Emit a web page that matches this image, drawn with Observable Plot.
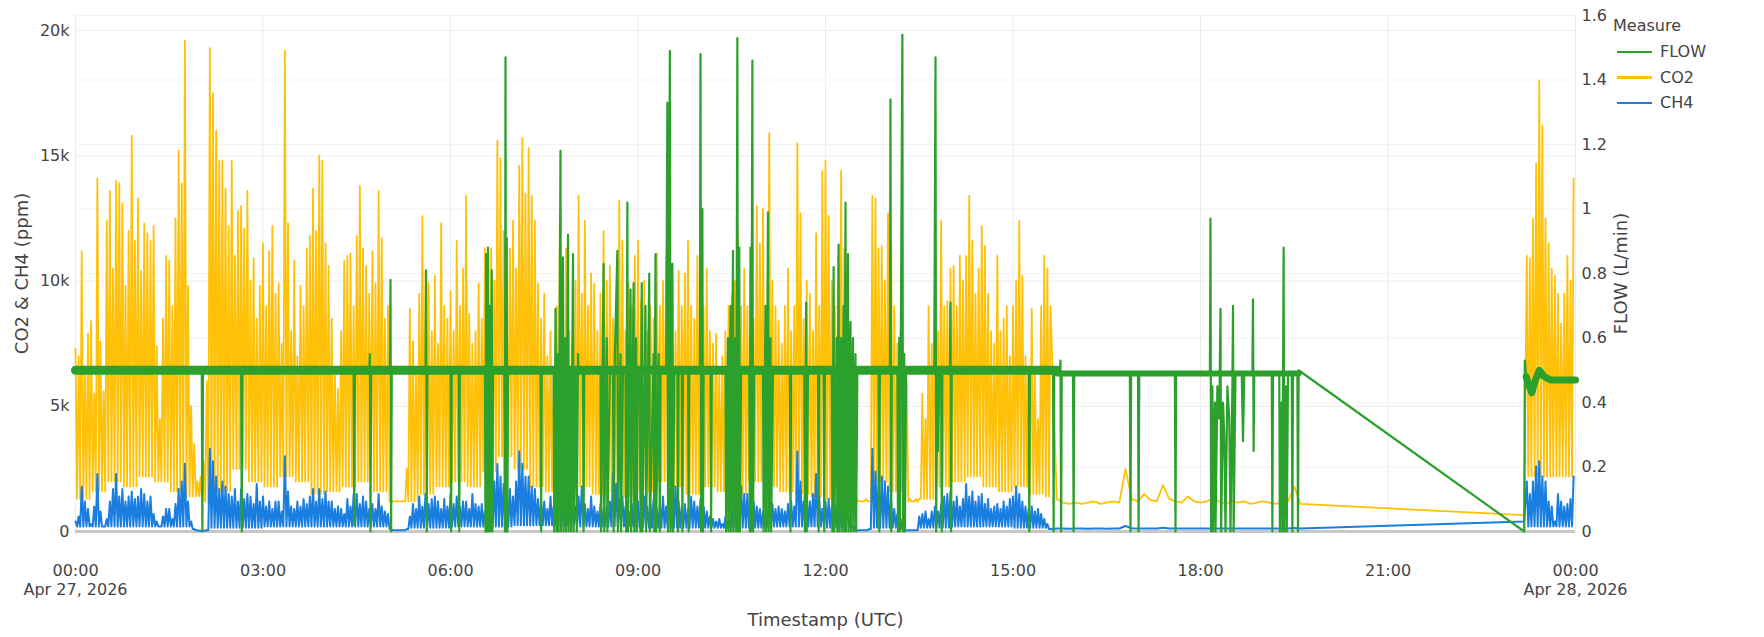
<!DOCTYPE html>
<html><head><meta charset="utf-8">
<script src="https://cdn.jsdelivr.net/npm/d3@7"></script>
<script src="https://cdn.jsdelivr.net/npm/@observablehq/plot@0.6"></script>
<style>
body{margin:0;background:#fff;}
#wrap{position:relative;width:1764px;height:637px;font-family:"DejaVu Sans",sans-serif;color:#444;}
#legend{position:absolute;left:1613px;top:12px;font-size:16px;}
#legend .ttl{height:27px;line-height:27px;}
#legend .row{display:flex;align-items:center;height:25.5px;}
#legend .sw{display:inline-block;width:35px;height:2.5px;margin-left:4px;margin-right:8px;}
</style></head>
<body><div id="wrap"><div id="chart"></div><div id="legend"></div></div>
<script>
// ---------- data ----------
const seriesNames = ["FLOW", "CO2", "CH4"];
const seriesColors = ["#2ca02c", "#ffc107", "#1a7ee0"];
const legendTitle = "Measure";
const xTitle = "Timestamp (UTC)";
const yTitle = "CO2 & CH4 (ppm)";
const y2Title = "FLOW (L/min)";
const leftTicks = [0, 5000, 10000, 15000, 20000];
const flowTicks = [0, 0.2, 0.4, 0.6, 0.8, 1, 1.2, 1.4, 1.6];
const tickHours = [0, 3, 6, 9, 12, 15, 18, 21, 24];
const Y_MAX = 20600, FLOW_MAX = 1.6;

// CO2 spike peaks (k ppm), one every 3 minutes from 00:00 to 15:36
const co2Peak = [
7.3,7.0,11.2,6.5,7.9, 8.4,5.5,14.1,7.6,5.6, 12.4,13.6,10.5,14.0,13.9, 13.1,9.8,12.0,15.8,11.6,
13.3,10.4,12.3,11.9,11.6, 12.2,7.4,4.5,8.5,11.0, 10.8,9.0,12.5,15.2,13.9, 19.6,9.8,5.0,3.5,2.0,
2.2,2.8,6.0,19.3,17.5, 16.0,14.8,14.8,13.7,12.2, 14.8,11.0,12.8,13.0,12.1, 13.6,10.0,10.9,8.5,9.8,
11.5,9.0,11.2,12.2,9.5, 9.9,7.5,19.2,12.3,8.0, 10.8,7.0,9.8,9.0,11.3, 11.8,13.7,12.0,15.0,14.8,
11.5,10.6,8.5,6.5,5.7, 8.0,10.8,11.0,11.1,9.0, 11.8,13.8,11.3,10.6,9.5, 11.2,9.9,13.6,11.7,8.5,
9.0,1.3,1.2,1.2,1.2, 1.2,2.5,8.9,7.6,6.5, 9.5,12.6,10.4,9.9,8.0, 10.2,7.5,12.3,9.0,8.5,
9.6,8.0,11.6,9.0,10.5, 13.4,8.7,7.5,8.0,9.9, 8.5,11.3,9.0,11.3,10.0, 15.6,14.9,12.0,9.0,11.3,
12.4,10.5,14.6,15.7,13.5, 15.3,13.4,12.4,9.9,8.5, 9.5,7.0,8.0,6.5,9.0, 12.7,9.0,11.3,8.0,7.5,
10.0,13.4,9.5,12.4,9.0, 10.3,9.9,8.0,9.5,12.0, 10.0,10.6,8.5,9.0,13.2, 11.6,8.0,9.9,9.0,11.0,
11.6,9.2,10.0,8.0,9.0, 8.5,11.1,9.0,10.0,11.0, 11.5,10.1,8.0,10.4,9.0, 10.3,11.6,9.0,8.5,11.0,
13.0,9.0,10.5,8.0,7.5, 7.9,6.5,7.0,8.0,9.0, 9.5,10.0,11.7,9.0,10.5, 9.0,10.5,8.5,13.0,11.5,
12.9,9.0,15.9,10.0,9.0, 8.4,7.5,9.0,10.5,8.0, 9.0,15.5,12.7,8.5,10.0, 9.5,8.0,11.9,9.0,14.4,
14.8,12.6,10.0,9.0,11.0, 14.4,11.3,9.0,7.5,5.0, 1.3,1.2,1.2,1.3,1.2, 13.4,13.3,11.3,11.4,10.0,
12.7,11.6,9.0,7.5,8.0, 7.0,6.0,1.3,1.2,1.3, 1.3,5.5,4.5,9.0,7.5, 9.9,8.0,12.4,9.0,9.2,
10.5,10.6,9.0,11.0,10.0, 11.0,13.4,11.6,9.5,10.5, 12.2,11.4,9.5,8.0,7.5, 11.0,8.0,8.5,9.0,7.0,
9.0,10.0,12.4,10.2,7.0, 6.0,8.9,6.5,4.5,9.0, 11.0,10.5,9.0
];
// CO2 lower envelope (k ppm), one per quarter hour
const co2Low = [
1.3,1.6,2.0,1.8, 2.2,2.0,1.6,1.4, 1.2,1.6,2.5,2.0, 1.8,2.2,2.0,1.5, 1.6,1.8,2.0,1.6,
1.2,1.2,1.5,1.8, 2.0,1.8,2.4,3.0, 2.5,1.8,1.6,2.0, 1.8,1.5,1.6,1.4, 1.6,2.0,1.8,1.5,
1.8,1.6,1.5,2.0, 1.8,1.6,1.5,1.4, 1.3,1.2,1.2,2.0, 1.6,1.2,1.3,1.8, 2.0,2.2,1.8,1.6,
1.8,1.5,1.4
];
// CH4 spike peaks (x100 ppm), same 3-minute grid
const ch4Peak = [
4,6,18,12,9, 3,10,23,8,2, 5,12,17,23,14, 17,12,14,16,13,
14,17,15,12,14, 7,4,2,6,9, 9,5,11,17,20, 27,12,4,1,0.5,
0.3,0.3,0.5,33,28, 22,17,20,18,15, 14,17,12,17,13, 15,14,11,19,12,
14,10,12,9,12, 12,8,30,16,10, 9,12,10,13,11, 14,17,12,17,13,
16,12,12,9,10, 9,7,13,10,15, 15,11,14,12,9, 11,9,15,10,8,
7,1,0.5,0.5,0.5, 0.5,1,6,11,9, 14,10,15,11,13, 14,12,9,13,10,
15,11,14,10,12, 12,9,15,11,10, 11,8,16,23,20, 27,22,19,15,17,
14,20,32,27,22, 22,18,17,13,12, 12,9,14,10,11, 15,11,14,12,9,
10,14,18,11,9, 14,10,8,11,9, 10,12,23,19,13, 14,10,8,11,9,
12,9,14,10,11, 13,9,11,14,10, 16,20,18,12,10, 11,9,14,12,10,
13,10,8,6,5, 4,5,3,6,5, 8,14,23,18,15, 15,13,12,10,9,
8,10,12,11,9, 10,9,8,11,12, 10,32,20,12,14, 12,15,23,14,9,
12,13,10,11,14, 11,9,12,5,2, 0.5,0.5,0.5,0.5,1, 33,24,21,22,20,
18,13,9,7,5, 1,0.5,0.5,0.5,0.5, 6,7,8,5,8, 10,8,11,14,15,
16,12,14,10,13, 19,14,16,12,14, 15,11,13,9,10, 11,9,12,10,13,
14,18,15,12,10, 9,10,8,9,7, 5,3,1
];
// CH4 lower envelope (x100 ppm), one per hour
const ch4Low = [2,2,1.5,2,2,1.5,2,2.5,2,1.5,1.5,2,1.5,1.5,2,1.5];
// quiet period 15:42 - 19:36, one reading every 6 minutes
const co2Quiet = [1.3,1.15,1.1,1.15,1.1,1.15,1.2,1.1,1.15,1.2, 1.15,2.5,1.3,1.2,1.5,1.25,1.2,1.85,1.3,1.2,
  1.15,1.4,1.2,1.15,1.2,1.3,1.2,1.1,1.2,1.15, 1.2,1.1,1.15,1.2,1.15,1.1,1.15,1.2,1.8,1.1];
const ch4Quiet = [1.2,1.2,1.1,1.2,1.2,1.1,1.2,1.2,1.1,1.2, 1.2,2.2,1.3,1.2,1.2,1.2,1.2,1.5,1.2,1.2,
  1.2,1.2,1.2,1.2,1.2,1.2,1.2,1.2,1.2,1.2, 1.2,1.2,1.2,1.2,1.2,1.2,1.2,1.2,1.4,1.2];
// first reading after the data gap (23:11)
const co2AfterGap = 0.65, ch4AfterGap = 4;
// last burst 23:13 - 23:58, every 3 minutes
const co2Late = [11.0,10.9,12.5,14.7,18.0,16.2,12.5,11.5,10.5,10.2,9.5,8.3,9.5,11.0,10.0,14.1];
const ch4Late = [20,15,20,26,28,22,20,12,10,4,15,12,10,11,13,22];
const co2LateLow = 2.2, ch4LateLow = 2;
// FLOW readings [hour, L/min]
const flowPts = [
[0,0.5],
[2.02,0.5],[2.03,0],[2.04,0.5],
[2.65,0.5],[2.66,0],[2.67,0.5],
[4.45,0.5],[4.46,0.02],[4.47,0.5],
[4.70,0.5],[4.71,0.55],[4.72,0],[4.73,0.5],
[5.03,0.5],[5.04,0.78],[5.05,0],[5.06,0.5],
[5.60,0.5],[5.61,0.81],[5.62,0],[5.63,0.5],
[6.00,0.5],[6.01,0],[6.02,0.5],
[6.13,0.5],[6.14,0],[6.15,0.5],
[6.55,0.5],[6.56,0],[6.57,0.86],[6.58,0],[6.60,0.88],[6.61,0],[6.63,0.7],[6.64,0],[6.66,0.81],[6.67,0],[6.68,0.5],
[6.86,0.5],[6.87,0],[6.88,1.47],[6.89,0],[6.90,0.91],[6.91,0],[6.92,0.5],
[7.44,0.5],[7.45,0],[7.46,0.5],
[7.65,0.5],[7.66,0],[7.68,0.69],[7.70,0],[7.72,0.55],[7.73,0],[7.76,1.18],[7.77,0],[7.80,0.85],[7.81,0],[7.84,0.6],[7.85,0],[7.88,0.92],[7.89,0],[7.92,0.5],[7.93,0],[7.96,0.86],[7.97,0],[8.00,0.5],[8.02,0],[8.04,0.55],[8.05,0.5],
[8.12,0.5],[8.13,0],[8.14,0.5],
[8.40,0.5],[8.41,0],[8.45,0.83],[8.46,0],[8.50,0.6],[8.51,0],[8.55,0.5],
[8.60,0.5],[8.61,0],[8.63,0.55],[8.67,0.87],[8.68,0],[8.72,0.55],[8.73,0],[8.76,0.5],
[8.80,0.5],[8.81,0],[8.83,1.02],[8.84,0],[8.88,0.75],[8.89,0],[8.93,0.77],[8.94,0],[8.97,0.6],[8.98,0],[9.00,0.5],
[9.03,0.5],[9.04,0],[9.06,0.77],[9.07,0],[9.12,0.7],[9.13,0],[9.18,0.8],[9.19,0],[9.25,0.55],[9.26,0],[9.28,0.86],[9.29,0],[9.33,0.55],[9.35,0],[9.36,0.5],
[9.45,0.5],[9.47,1.33],[9.48,0],[9.51,1.49],[9.52,0],[9.55,0.83],[9.56,0],[9.58,0.5],
[9.63,0.5],[9.64,0],[9.65,0.5],
[9.70,0.5],[9.71,0],[9.72,0.5],
[9.80,0.5],[9.81,0],[9.82,0.5],
[9.99,0.5],[10.00,1.48],[10.01,0],[10.03,1.0],[10.04,0],[10.05,0.5],
[10.16,0.5],[10.17,0],[10.18,0.5],
[10.40,0.5],[10.41,0],[10.44,0.6],[10.45,0],[10.48,0.7],[10.49,0],[10.52,0.87],[10.53,0],[10.56,0.6],[10.57,0],[10.59,1.53],[10.60,0],[10.62,0.88],[10.63,0],[10.65,0.5],
[10.78,0.5],[10.79,0],[10.80,0.88],[10.81,0],[10.83,1.46],[10.84,0],[10.86,0.5],
[11.00,0.5],[11.01,0],[11.04,0.7],[11.05,0],[11.08,0.99],[11.09,0],[11.12,0.6],[11.13,0],[11.16,0.5],
[11.43,0.5],[11.44,0],[11.45,0.5],
[11.66,0.5],[11.67,0],[11.69,0.71],[11.70,0],[11.72,0.5],
[11.88,0.5],[11.89,0],[11.90,0.5],
[11.97,0.5],[11.98,0],[11.99,0.5],
[12.10,0.5],[12.11,0],[12.13,0.82],[12.14,0],[12.18,0.6],[12.19,0],[12.21,0.89],[12.22,0],[12.25,0.6],[12.26,0],[12.29,0.7],[12.30,0],[12.32,1.02],[12.33,0],[12.36,0.86],[12.37,0],[12.40,0.65],[12.41,0],[12.44,0.6],[12.45,0],[12.48,0.55],[12.49,0],[12.51,0.5],
[12.85,0.5],[12.86,0],[12.87,0.5],
[13.03,0.5],[13.04,1.34],[13.05,0],[13.06,0.5],
[13.15,0.5],[13.16,0],[13.18,0.6],[13.19,0],[13.23,1.54],[13.24,0],[13.26,0.55],[13.27,0],[13.29,0.5],
[13.74,0.5],[13.76,1.47],[13.77,0],[13.79,0.5],[13.80,0.25],[13.82,0.5],
[13.85,0.5],[13.86,0],[13.87,0.5],
[13.99,0.5],[14.00,0.71],[14.01,0],[14.02,0.5],
[15.25,0.5],[15.26,0],[15.27,0.5],
[15.64,0.5],[15.65,0],[15.66,0.5],
[15.75,0.5],[15.76,0.53],[15.77,0],[15.78,0.49],
[15.96,0.49],[15.97,0],[15.98,0.49],
[16.87,0.49],[16.88,0],[16.89,0.49],
[17.00,0.49],[17.01,0],[17.02,0.49],
[17.59,0.49],[17.60,0],[17.61,0.49],
[18.15,0.49],[18.16,0.97],[18.17,0],[18.19,0.45],[18.20,0],[18.23,0.4],[18.24,0],[18.27,0.45],[18.30,0.35],[18.32,0.69],[18.33,0],[18.36,0.4],[18.38,0.3],[18.40,0],[18.43,0.45],[18.46,0.35],[18.48,0],[18.51,0.45],[18.52,0.7],[18.53,0],[18.56,0.49],
[18.66,0.49],[18.68,0.28],[18.70,0.49],
[18.83,0.49],[18.84,0.72],[18.85,0.25],[18.86,0.49],
[19.14,0.49],[19.15,0],[19.16,0.49],
[19.26,0.49],[19.27,0],[19.29,0.4],[19.31,0],[19.33,0.88],[19.34,0],[19.37,0.45],[19.38,0],[19.40,0.49],
[19.46,0.49],[19.47,0],[19.48,0.49],
[19.55,0.49],[19.56,0],[19.57,0.5],
[23.18,0],[23.19,0.53],[23.21,0.48],[23.26,0.45],[23.30,0.43],[23.36,0.47],[23.42,0.5],[23.50,0.48],[23.60,0.47],[24.00,0.47]
];

// ---------- build ----------
const T0 = Date.UTC(2026, 3, 27);
const toDate = h => new Date(T0 + h * 3600000);
const K = Y_MAX / FLOW_MAX;
const STEP = 0.05;
const [cFlow, cCO2, cCH4] = seriesColors;

function zig(start, peaks, lowAt, unit) {
  const pts = [];
  peaks.forEach((p, i) => {
    const h = start + i * STEP;
    pts.push([h, p * unit]);
    if (i < peaks.length - 1) pts.push([h + STEP / 2, Math.min(lowAt(h), p, peaks[i + 1]) * unit]);
  });
  return pts;
}
const co2Pts = [
  ...zig(0, co2Peak, h => co2Low[Math.min(Math.floor(h / 0.25), co2Low.length - 1)], 1000),
  ...co2Quiet.map((v, i) => [15.7 + i * 0.1, v * 1000]),
  [23.18, co2AfterGap * 1000],
  ...zig(23.22, co2Late, () => co2LateLow, 1000)
];
const ch4Pts = [
  ...zig(0, ch4Peak, h => ch4Low[Math.min(Math.floor(h), ch4Low.length - 1)], 100),
  ...ch4Quiet.map((v, i) => [15.7 + i * 0.1, v * 100]),
  [23.18, ch4AfterGap * 100],
  ...zig(23.22, ch4Late, () => ch4LateLow, 100)
];
const rows = pts => pts.map(([h, v]) => ({t: toDate(h), v}));
const flowRows = flowPts.map(([h, v]) => ({t: toDate(h), v: v * K}));
const bandMain = rows([[0, 0.5 * K], [15.7, 0.5 * K]]);
const bandQuiet = rows([[15.7, 0.49 * K], [19.57, 0.49 * K]]);
const bandLate = flowPts.filter(([h]) => h >= 23.21).map(([h, v]) => ({t: toDate(h), v: v * K}));
const xTicks = tickHours.map(toDate);
const fmtX = d => {
  const hm = d3.utcFormat("%H:%M")(d);
  return d.getUTCHours() === 0 ? hm + "\n" + d3.utcFormat("%b %-d, %Y")(d) : hm;
};

const chart = Plot.plot({
  width: 1764, height: 637,
  marginLeft: 75, marginRight: 189, marginTop: 15, marginBottom: 106,
  x: {type: "utc", domain: [toDate(0), toDate(24)], axis: null},
  y: {domain: [0, Y_MAX]},
  style: {fontFamily: "DejaVu Sans, sans-serif", fontSize: "16px", color: "#444", background: "#fff"},
  marks: [
    Plot.ruleX(xTicks, {stroke: "#ececec"}),
    Plot.ruleY(leftTicks.filter(d => d > 0), {stroke: "#ececec"}),
    Plot.ruleY(flowTicks.filter(d => d > 0).map(d => d * K), {stroke: "#f3f3f3"}),
    Plot.ruleY([0], {stroke: "#c8c8c8", strokeWidth: 3}),
    Plot.line(rows(co2Pts), {x: "t", y: "v", stroke: cCO2, strokeWidth: 1.8}),
    Plot.line(rows(ch4Pts), {x: "t", y: "v", stroke: cCH4, strokeWidth: 2}),
    Plot.line(bandMain, {x: "t", y: "v", stroke: cFlow, strokeWidth: 9}),
    Plot.line(bandQuiet, {x: "t", y: "v", stroke: cFlow, strokeWidth: 6}),
    Plot.line(bandLate, {x: "t", y: "v", stroke: cFlow, strokeWidth: 7}),
    Plot.line(flowRows, {x: "t", y: "v", stroke: cFlow, strokeWidth: 2.2}),
    Plot.axisY({ticks: leftTicks, tickFormat: d3.format("~s"), tickSize: 0, tickPadding: 6, label: null, fill: "#444"}),
    Plot.axisY({anchor: "right", ticks: flowTicks.map(d => d * K), tickFormat: d => String(+(d / K).toFixed(1)), tickSize: 0, tickPadding: 6, label: null, fill: "#444"}),
    Plot.text(xTicks, {x: d => d, frameAnchor: "bottom", dy: 31, lineAnchor: "top", lineHeight: 1.2, text: fmtX, fill: "#444"}),
    Plot.text([xTitle], {frameAnchor: "bottom", dy: 89, lineAnchor: "middle", fontSize: 18, fill: "#444"}),
    Plot.text([yTitle], {frameAnchor: "left", dx: -53, rotate: -90, textAnchor: "middle", lineAnchor: "middle", fontSize: 18, fill: "#444"}),
    Plot.text([y2Title], {frameAnchor: "right", dx: 46, rotate: -90, textAnchor: "middle", lineAnchor: "middle", fontSize: 18, fill: "#444"})
  ]
});
document.getElementById("chart").appendChild(chart);

const lg = document.getElementById("legend");
lg.innerHTML = `<div class="ttl">${legendTitle}</div>` +
  seriesNames.map((n, i) => `<div class="row"><span class="sw" style="background:${seriesColors[i]}"></span>${n}</div>`).join("");
</script>
</body></html>
